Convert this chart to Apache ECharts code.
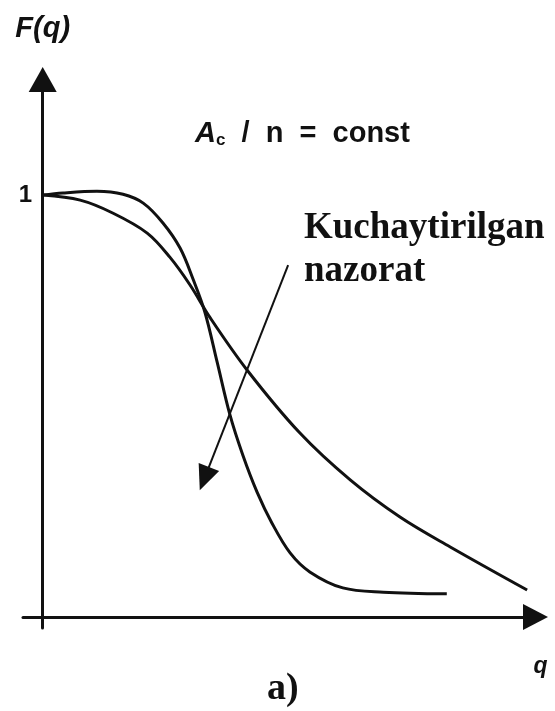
<!DOCTYPE html>
<html>
<head>
<meta charset="utf-8">
<title>F(q)</title>
<script src="https://cdn.jsdelivr.net/npm/echarts@6/dist/echarts.min.js"></script>
<style>
  html, body { margin: 0; padding: 0; background: #ffffff; }
  #chart { width: 555px; height: 711px; }
</style>
</head>
<body>
<div id="chart"></div>
<script>
// Operating characteristic curves, plain inspection vs. tightened inspection
const curveNormal = [
  [0, 1.000], [0.76, 0.988], [1.43, 0.957], [2.12, 0.910], [2.58, 0.853],
  [2.99, 0.787], [3.40, 0.709], [4.15, 0.585], [5.22, 0.436], [6.24, 0.325],
  [7.25, 0.237], [8.27, 0.166], [9.83, 0.064]
];
const curveTightened = [
  [0, 1.000], [0.41, 1.005], [1.10, 1.009], [1.63, 1.002], [2.04, 0.981],
  [2.44, 0.934], [2.79, 0.874], [3.05, 0.801], [3.29, 0.723], [3.54, 0.604],
  [3.80, 0.479], [4.06, 0.384], [4.35, 0.296], [4.65, 0.223], [5.02, 0.152],
  [5.42, 0.107], [6.09, 0.069], [6.91, 0.059], [8.20, 0.055]
];
// direction arrow: from the caption towards the steeper curve
const arrowFrom = [4.98, 0.834];
const arrowTo = [3.28, 0.328];
const yTickLabels = [1];

const ink = '#111111';
const chart = echarts.init(document.getElementById('chart'), null, { renderer: 'canvas' });

chart.setOption({
  backgroundColor: '#ffffff',
  animation: false,
  grid: {
    left: 23, right: 19.5, top: 79.5, bottom: 83,
    containLabel: false, outerBoundsMode: 'none'
  },
  xAxis: {
    type: 'value', min: -0.4, max: 10,
    name: 'q', nameLocation: 'end', nameGap: 5,
    nameTextStyle: {
      fontFamily: 'Liberation Sans', fontWeight: 'bold', fontStyle: 'italic',
      fontSize: 23, color: ink, align: 'center', verticalAlign: 'top', padding: [38, 0, 0, 0]
    },
    axisLine: { onZero: true, symbol: ['none', 'triangle'], symbolSize: [26, 25],
      lineStyle: { color: ink, width: 3 } },
    axisTick: { show: false }, axisLabel: { show: false }, splitLine: { show: false }
  },
  yAxis: {
    type: 'value', min: -0.026, max: 1.274,
    name: 'F(q)', nameLocation: 'end', nameGap: 51,
    nameTextStyle: {
      fontFamily: 'Liberation Sans', fontWeight: 'bold', fontStyle: 'italic',
      fontSize: 29, color: ink, align: 'center', verticalAlign: 'middle'
    },
    axisLine: { onZero: true, symbol: ['none', 'triangle'], symbolSize: [28, 25],
      lineStyle: { color: ink, width: 3 } },
    axisTick: { show: false }, splitLine: { show: false },
    axisLabel: {
      show: true, customValues: yTickLabels, margin: -9,
      fontFamily: 'Liberation Sans', fontWeight: 'bold', fontSize: 24, color: ink,
      formatter: v => String(v)
    }
  },
  series: [
    {
      type: 'line', name: 'normal', data: curveNormal, smooth: 0.35,
      showSymbol: false, symbol: 'none',
      lineStyle: { color: ink, width: 3 }
    },
    {
      type: 'line', name: 'tightened', data: curveTightened, smooth: 0.35,
      showSymbol: false, symbol: 'none',
      lineStyle: { color: ink, width: 3 },
      markLine: {
        silent: true, animation: false,
        symbol: ['none', 'triangle'], symbolSize: [22, 25],
        label: { show: false },
        lineStyle: { color: ink, width: 2, type: 'solid' },
        data: [[{ coord: arrowFrom }, { coord: arrowTo }]]
      }
    }
  ],
  graphic: [
    {
      type: 'text', left: 195, top: 119,
      style: {
        text: '{a|A}{c|c}{t|  /  n  =  const}',
        rich: {
          a: { fontFamily: 'Liberation Sans', fontWeight: 'bold', fontStyle: 'italic', fontSize: 29, fill: ink },
          c: { fontFamily: 'Liberation Sans', fontWeight: 'bold', fontSize: 17, fill: ink, padding: [14, 0, 0, 0] },
          t: { fontFamily: 'Liberation Sans', fontWeight: 'bold', fontSize: 29, fill: ink }
        }
      }
    },
    {
      type: 'text', left: 304, top: 207,
      style: {
        text: 'Kuchaytirilgan\nnazorat',
        fontFamily: 'Liberation Serif', fontWeight: 'bold', fontSize: 37,
        lineHeight: 43, fill: ink
      }
    },
    {
      type: 'text', left: 267, top: 670,
      style: {
        text: 'a)',
        fontFamily: 'Liberation Serif', fontWeight: 'bold', fontSize: 38, fill: ink
      }
    }
  ]
});
</script>
</body>
</html>
